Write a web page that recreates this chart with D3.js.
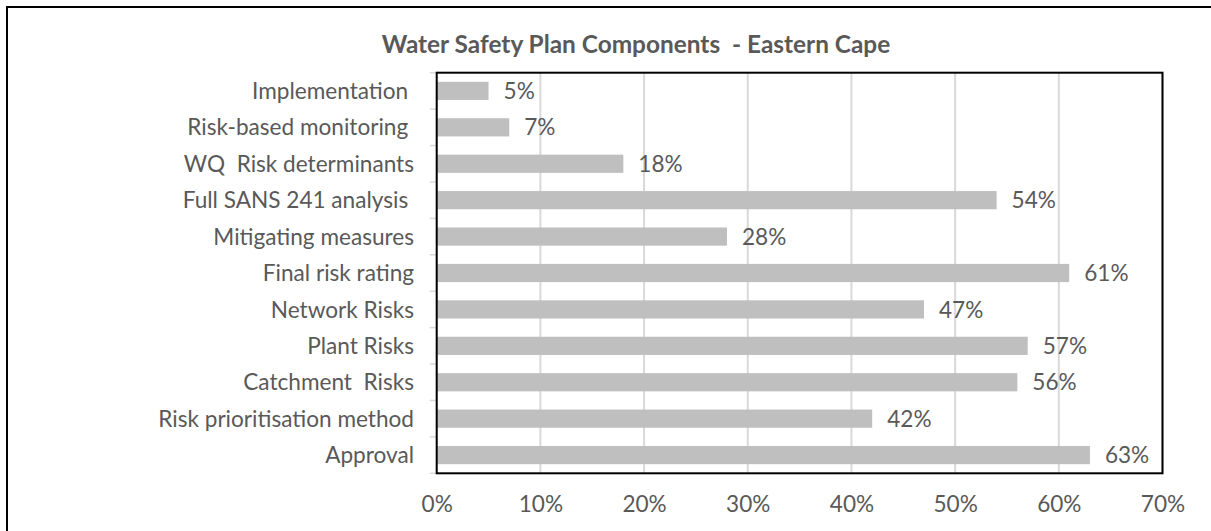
<!DOCTYPE html>
<html>
<head>
<meta charset="utf-8">
<script src="https://cdn.jsdelivr.net/npm/d3@7"></script>
<style>
  html, body { margin: 0; padding: 0; background: #fff; }
  svg text { font-family: Lato, "Open Sans", sans-serif; white-space: pre; }
</style>
</head>
<body>
<svg id="chart" width="1211" height="531"></svg>
<script>
// Components, top to bottom
const categories = [
  "Implementation ",
  "Risk-based monitoring ",
  "WQ  Risk determinants",
  "Full SANS 241 analysis ",
  "Mitigating measures",
  "Final risk rating",
  "Network Risks",
  "Plant Risks",
  "Catchment  Risks",
  "Risk prioritisation method",
  "Approval"
];
// Share of systems with each component (%)
const values = [5, 7, 18, 54, 28, 61, 47, 57, 56, 42, 63];
const xTicks = [0, 10, 20, 30, 40, 50, 60, 70];
const title = "Water Safety Plan Components  - Eastern Cape";

const svg = d3.select("#chart");
const textColor = "#595959";
const labelSize = 22.6;

const plot = { left: 436.7, right: 1162.5, top: 72.7, bottom: 473.3 };

const x = d3.scaleLinear().domain([0, 70]).range([plot.left, plot.right]);
const y = d3.scaleBand().domain(categories).range([plot.top, plot.bottom]).paddingInner(0.5).paddingOuter(0.25);

// outer chart border
svg.append("rect")
  .attr("x", 7).attr("y", 7).attr("width", 1300).attr("height", 700)
  .attr("fill", "none").attr("stroke", "#000").attr("stroke-width", 2);

// title
svg.append("text")
  .attr("x", 636).attr("y", 53)
  .attr("text-anchor", "middle")
  .attr("font-size", 24.4).attr("font-weight", 700)
  .attr("fill", textColor)
  .text(title);

// vertical gridlines
svg.append("g").selectAll("line")
  .data(xTicks.filter(d => d > 0))
  .join("line")
  .attr("x1", d => x(d)).attr("x2", d => x(d))
  .attr("y1", plot.top).attr("y2", plot.bottom)
  .attr("stroke", "#d9d9d9").attr("stroke-width", 2);

// category axis line and tick marks
const bandEdges = categories.map(c => y(c) - y.step() * y.paddingInner() / 2).concat([plot.bottom]);
svg.append("line")
  .attr("x1", plot.left).attr("x2", plot.left)
  .attr("y1", plot.top).attr("y2", plot.bottom)
  .attr("stroke", "#d9d9d9").attr("stroke-width", 1.5);
svg.append("g").selectAll("line")
  .data(bandEdges)
  .join("line")
  .attr("x1", plot.left - 7).attr("x2", plot.left)
  .attr("y1", d => d).attr("y2", d => d)
  .attr("stroke", "#d9d9d9").attr("stroke-width", 1.5);

// bars
svg.append("g").selectAll("rect")
  .data(values)
  .join("rect")
  .attr("x", x(0))
  .attr("y", (d, i) => y(categories[i]))
  .attr("width", d => x(d) - x(0))
  .attr("height", y.bandwidth())
  .attr("fill", "#bfbfbf");

// plot frame
svg.append("rect")
  .attr("x", plot.left).attr("y", plot.top)
  .attr("width", plot.right - plot.left).attr("height", plot.bottom - plot.top)
  .attr("fill", "none").attr("stroke", "#000").attr("stroke-width", 2);

// value labels
svg.append("g").selectAll("text")
  .data(values)
  .join("text")
  .attr("x", d => x(d) + 15)
  .attr("y", (d, i) => y(categories[i]) + y.bandwidth() / 2)
  .attr("dy", "0.36em")
  .attr("font-size", labelSize)
  .attr("fill", textColor)
  .text(d => d + "%");

// category labels
svg.append("g").selectAll("text")
  .data(categories)
  .join("text")
  .attr("x", 414)
  .attr("y", d => y(d) + y.bandwidth() / 2)
  .attr("dy", "0.36em")
  .attr("text-anchor", "end")
  .attr("font-size", labelSize)
  .attr("fill", textColor)
  .text(d => d);

// value axis labels
const xAxis = d3.axisBottom(x).tickValues(xTicks).tickFormat(d => d + "%").tickSize(0).tickPadding(0);
const gx = svg.append("g").attr("transform", `translate(0, ${plot.bottom})`).call(xAxis);
gx.select(".domain").remove();
gx.selectAll("text")
  .attr("y", 38.5).attr("dy", 0)
  .attr("font-size", labelSize)
  .attr("font-family", "Lato, 'Open Sans', sans-serif")
  .attr("fill", textColor);
</script>
</body>
</html>
